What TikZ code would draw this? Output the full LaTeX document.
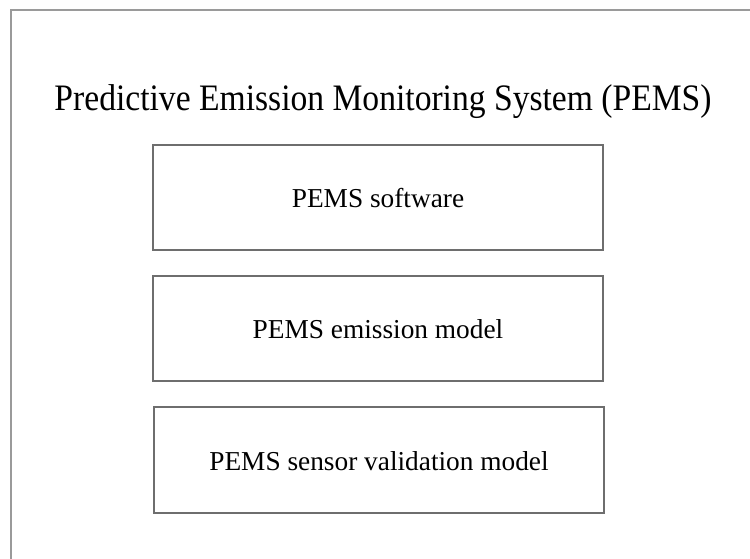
\documentclass[tikz,border=0pt]{standalone}
\usepackage{fontspec}
\setmainfont{Liberation Serif}
\definecolor{boxline}{HTML}{6E6E6E}
\definecolor{frameline}{HTML}{9A9A9A}
\begin{document}
\begin{tikzpicture}[x=0.75pt,y=-0.75pt,
  modbox/.style={draw=boxline,line width=0.8pt},
  boxtext/.style={font=\fontsize{20.5}{24}\selectfont,text=black,inner sep=0pt},
  titletext/.style={font=\fontsize{28}{32}\selectfont,text=black,inner sep=0pt}]
\useasboundingbox (0,0) rectangle (750,559);
\fill[white] (0,0) rectangle (750,559);
\draw[frameline,line width=1pt] (11,559) -- (11,10) -- (750,10);
\node[titletext,anchor=base] (title) at (383,111) {\scalebox{0.9}[1]{Predictive Emission Monitoring System (PEMS)}};
\draw[modbox] (153,145) rectangle (603,250);
\draw[modbox] (153,276) rectangle (603,381);
\draw[modbox] (154,407) rectangle (604,513);
\node[boxtext,anchor=base] (sw) at (378,208) {PEMS software};
\node[boxtext,anchor=base] (em) at (378,339) {PEMS emission model};
\node[boxtext,anchor=base] (sv) at (379,471) {PEMS sensor validation model};
\end{tikzpicture}
\end{document}
